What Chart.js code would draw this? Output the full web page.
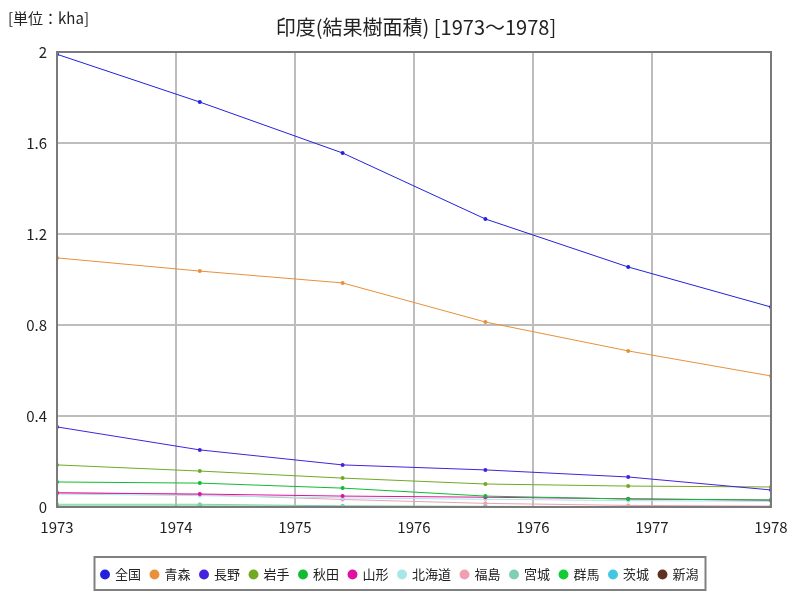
<!DOCTYPE html>
<html>
<head>
<meta charset="utf-8">
<script src="https://cdn.jsdelivr.net/npm/chart.js@4"></script>
<style>
  html, body { margin: 0; padding: 0; background: #fff; }
  #wrap { width: 800px; height: 600px; }
</style>
</head>
<body>
<div id="wrap"><canvas id="chart" width="800" height="600"></canvas></div>
<script>
const years = [1973, 1974, 1975, 1976, 1977, 1978];
const xTickLabels = ["1973", "1974", "1975", "1976", "1976", "1977", "1978"];
const seriesNames = ["全国", "青森", "長野", "岩手", "秋田", "山形", "北海道", "福島", "宮城", "群馬", "茨城", "新潟"];
const seriesColors = ["#2222dd", "#e8903c", "#4422dd", "#70aa22", "#11bb33", "#e011a0", "#a8e6e8", "#f0a0b0", "#80cfb0", "#11cc33", "#40c8e0", "#603020"];

const zenkoku  = [1.99, 1.78, 1.556, 1.266, 1.055, 0.879];
const aomori   = [1.095, 1.037, 0.985, 0.813, 0.686, 0.576];
const nagano   = [0.352, 0.251, 0.185, 0.163, 0.132, 0.075];
const iwate    = [0.185, 0.158, 0.127, 0.101, 0.092, 0.088];
const akita    = [0.11, 0.105, 0.083, 0.048, 0.035, 0.031];
const yamagata = [0.062, 0.057, 0.048, 0.043, 0.036, 0.03];
const hokkaido = [0.057, 0.05, 0.04, 0.034, 0.028, 0.025];
const fukushima= [0.064, 0.054, 0.033, 0.016, 0.007, 0.004];
const miyagi   = [0.012, 0.012, 0.005, 0.003, 0.002, 0.002];
const gunma    = [0.004, 0.004, 0.003, 0.002, 0.002, 0.002];
const ibaraki  = [0.002, 0.002, 0.002, 0.001, 0.001, 0.001];
const niigata  = [0.001, 0.001, 0.001, 0.001, 0.001, 0.001];

const seriesValues = [zenkoku, aomori, nagano, iwate, akita, yamagata, hokkaido, fukushima, miyagi, gunma, ibaraki, niigata];

const FONT = "'Noto Sans CJK JP', 'Noto Sans', sans-serif";

const datasets = seriesNames.map((name, i) => ({
  label: name,
  data: seriesValues[i].map((v, j) => ({ x: years[j], y: v })),
  borderColor: seriesColors[i],
  backgroundColor: seriesColors[i],
  borderWidth: 1,
  pointRadius: 2,
  pointHoverRadius: 3,
  pointBorderWidth: 0,
  tension: 0,
  xAxisID: "x",
  yAxisID: "y",
}));

const framePlugin = {
  id: "frame",
  beforeDraw(chart) {
    const ctx = chart.ctx;
    ctx.save();
    ctx.fillStyle = "#fff";
    ctx.fillRect(0, 0, chart.width, chart.height);
    ctx.restore();
  },
  afterDraw(chart) {
    const ctx = chart.ctx;
    const a = chart.chartArea;
    ctx.save();
    ctx.strokeStyle = "#7a7a7a";
    ctx.lineWidth = 2;
    ctx.strokeRect(a.left, a.top, a.right - a.left, a.bottom - a.top);

    // title and unit
    ctx.fillStyle = "#222";
    ctx.textBaseline = "middle";
    ctx.font = "20px " + FONT;
    ctx.textAlign = "center";
    ctx.fillText("印度(結果樹面積) [1973〜1978]", (a.left + a.right) / 2 + 2, 27);
    ctx.font = "15px " + FONT;
    ctx.textAlign = "left";
    ctx.fillText("[単位：kha]", 8, 18);

    // legend border
    const boxes = chart.legend.legendHitBoxes;
    if (boxes && boxes.length) {
      let l = Infinity, r = -Infinity, t = Infinity, b = -Infinity;
      boxes.forEach(h => {
        l = Math.min(l, h.left); r = Math.max(r, h.left + h.width);
        t = Math.min(t, h.top); b = Math.max(b, h.top + h.height);
      });
      ctx.strokeStyle = "#808080";
      ctx.lineWidth = 2;
      ctx.strokeRect(l - 7, t - 11, r - l + 14, b - t + 20);
    }
    ctx.restore();
  }
};

new Chart(document.getElementById("chart"), {
  type: "line",
  data: { datasets },
  options: {
    responsive: false,
    animation: false,
    events: [],
    layout: { padding: { top: 52, right: 0, left: 0, bottom: 9 } },
    plugins: {
      title: { display: false },
      tooltip: { enabled: false },
      legend: {
        position: "bottom",
        labels: {
          color: "#222",
          font: { family: FONT, size: 13 },
          usePointStyle: true,
          pointStyle: "circle",
          boxWidth: 7,
          boxHeight: 7,
          padding: 10,
        }
      }
    },
    scales: {
      x: {
        type: "linear",
        min: years[0],
        max: years[years.length - 1],
        display: false,
      },
      xg: {
        type: "category",
        labels: xTickLabels,
        offset: false,
        position: "bottom",
        grid: { color: "#bdbdbd", lineWidth: 2, drawTicks: false },
        border: { color: "#7a7a7a", width: 2 },
        ticks: { color: "#222", font: { family: FONT, size: 15 }, padding: 11, maxRotation: 0, autoSkip: false },
        afterFit(scale) { scale.height = 51; }
      },
      y: {
        min: 0,
        max: 2,
        ticks: {
          stepSize: 0.4,
          color: "#222",
          font: { family: FONT, size: 15 },
          padding: 10,
          callback: v => String(+v.toFixed(1)),
        },
        grid: { color: "#bdbdbd", lineWidth: 2, drawTicks: false },
        border: { color: "#7a7a7a", width: 2 },
        afterFit(scale) { scale.width = 57; }
      },
      yr: {
        position: "right",
        min: 0,
        max: 2,
        grid: { display: false, drawTicks: false },
        border: { display: false },
        ticks: { display: false },
        afterFit(scale) { scale.width = 29; }
      }
    }
  },
  plugins: [framePlugin]
});
</script>
</body>
</html>
